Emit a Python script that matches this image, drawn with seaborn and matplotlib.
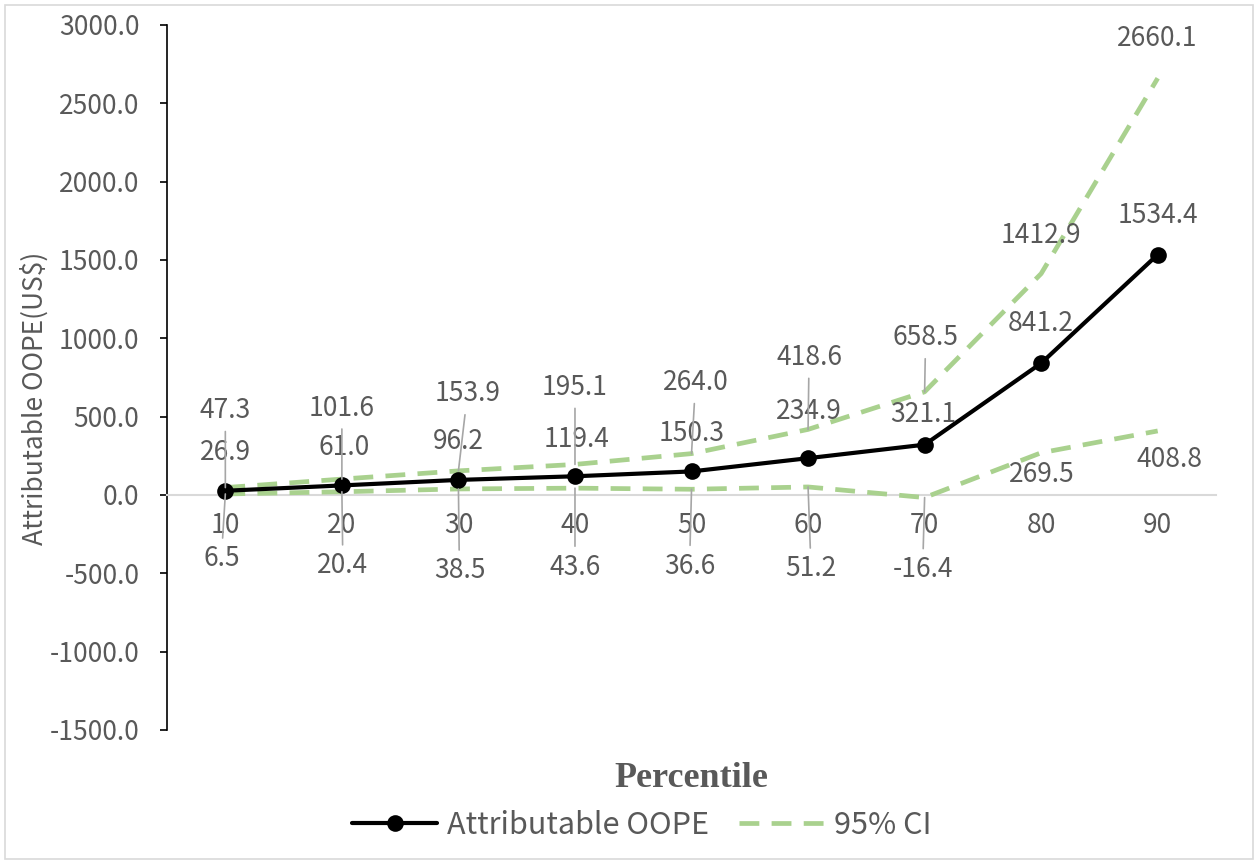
import matplotlib
matplotlib.use("Agg")
import matplotlib.pyplot as plt
import pandas as pd
import seaborn as sns
from matplotlib.patches import Rectangle
from matplotlib.ticker import FixedLocator, FuncFormatter

# ---- data -------------------------------------------------------------
percentiles = [10, 20, 30, 40, 50, 60, 70, 80, 90]
oope = [26.9, 61.0, 96.2, 119.4, 150.3, 234.9, 321.1, 841.2, 1534.4]
ci_upper = [47.3, 101.6, 153.9, 195.1, 264.0, 418.6, 658.5, 1412.9, 2660.1]
ci_lower = [6.5, 20.4, 38.5, 43.6, 36.6, 51.2, -16.4, 269.5, 408.8]
y_ticks = [-1500, -1000, -500, 0, 500, 1000, 1500, 2000, 2500, 3000]

df = pd.DataFrame({"percentile": percentiles, "oope": oope,
                   "upper": ci_upper, "lower": ci_lower})

# ---- label placement (pixel offsets from each point) -----------------
main_off = [(0, 38), (2, 38), (0, 38), (2, 37), (0, 38), (1, 47), (-1, 30), (0, 40), (0, 39)]
upper_off = [(0, 77), (0, 71), (9, 77), (0, 77), (4, 71), (1, 72), (1, 54), (0, 38), (0, 40)]
lower_off = [(-4, -65), (1, -74), (1, -82), (0, -79), (-2, -77), (3, -82), (-2, -72), (1, -22), (12, -29)]

# ---- style ------------------------------------------------------------
sns.set_theme(style="white")
plt.rcParams["font.family"] = ["Noto Sans CJK SC", "DejaVu Sans"]
TXT = "#595959"
GREEN = "#A9D18E"
LEADER = "#A6A6A6"
FS = 19

fig = plt.figure(figsize=(12.58, 8.64), dpi=100)
ax = fig.add_axes([0.1328, 0.1551, 0.8338, 0.8160])

sns.lineplot(data=df, x="percentile", y="oope", ax=ax, color="black",
             linewidth=3.0, marker="o", markersize=12, markeredgewidth=0,
             label="Attributable OOPE", errorbar=None, zorder=4)
sns.lineplot(data=df, x="percentile", y="upper", ax=ax, color=GREEN,
             linewidth=3.4, linestyle=(0, (4.2, 2.6)), label="95% CI",
             errorbar=None, zorder=3)
sns.lineplot(data=df, x="percentile", y="lower", ax=ax, color=GREEN,
             linewidth=3.4, linestyle=(0, (4.2, 2.6)), label="_nolegend_",
             errorbar=None, zorder=3)

ax.set_xlim(5, 95)
ax.set_ylim(-1500, 3000)

# axes: y spine black with outward ticks, x axis drawn at zero in grey
for side in ("top", "right"):
    ax.spines[side].set_visible(False)
ax.spines["left"].set_color("black")
ax.spines["left"].set_linewidth(1.2)
ax.spines["bottom"].set_position(("data", 0))
ax.spines["bottom"].set_color("#D9D9D9")
ax.spines["bottom"].set_linewidth(1.5)

ax.yaxis.set_major_locator(FixedLocator(y_ticks))
ax.yaxis.set_major_formatter(FuncFormatter(lambda v, _: f"{v:.1f}"))
ax.xaxis.set_major_locator(FixedLocator(percentiles))
ax.xaxis.set_major_formatter(FuncFormatter(lambda v, _: f"{v:.0f}"))
ax.tick_params(axis="y", direction="out", length=5, width=1.2, color="black",
               pad=15, labelsize=FS, labelcolor=TXT, left=True)
ax.tick_params(axis="x", length=0, pad=12, labelsize=FS, labelcolor=TXT)
ax.grid(False)

ax.set_xlabel("Percentile", fontsize=26, fontweight="bold", color=TXT,
              family=["Liberation Serif", "DejaVu Serif"])
ax.xaxis.set_label_coords(0.5, -0.045)
ax.set_ylabel("Attributable OOPE(US$)", fontsize=FS, color=TXT)
ax.yaxis.set_label_coords(-0.113, 0.471)


def put_labels(values, offsets):
    for x, v, (dx, dy) in zip(percentiles, values, offsets):
        arrow = None
        if abs(dy) > 50:
            arrow = dict(arrowstyle="-", color=LEADER, lw=1.2,
                         shrinkA=3, shrinkB=0)
        ax.annotate(f"{v:.1f}", xy=(x, v), xytext=(dx, dy),
                    textcoords="offset pixels", ha="center", va="center",
                    fontsize=FS, color=TXT, arrowprops=arrow, zorder=5)


put_labels(oope, main_off)
put_labels(ci_upper, upper_off)
put_labels(ci_lower, lower_off)

leg = ax.legend(loc="center", bbox_to_anchor=(0.51, 0.045),
                bbox_transform=fig.transFigure, ncol=2,
                frameon=False, fontsize=22, handlelength=2.8,
                handletextpad=0.3, columnspacing=1.0, labelcolor=TXT)

fig.add_artist(Rectangle((0.004, 0.006), 0.992, 0.988, transform=fig.transFigure,
                         fill=False, edgecolor="#D9D9D9", linewidth=1.2))

fig.savefig("out.png", dpi=100)
